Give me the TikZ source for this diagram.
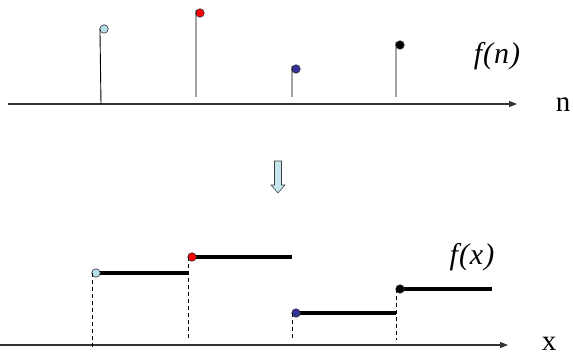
\documentclass[tikz,border=0pt]{standalone}
\usepackage{fontspec}
\setmainfont{Liberation Serif}
\newfontfamily\timesfont{Liberation Serif}
\newfontfamily\timesit{Liberation Serif Italic}
\usetikzlibrary{arrows.meta}
\definecolor{pblue}{HTML}{B4E0E6}
\definecolor{dblue}{HTML}{333399}
\definecolor{arrowfill}{HTML}{C4E6EC}
\tikzset{
  axisline/.style={line width=1.3pt, draw=black!80, -{Triangle[length=8pt,width=6pt]}},
  stem/.style={line width=0.9pt},
  dot/.style={circle, draw=black!80, line width=0.6pt, inner sep=0pt, minimum size=8.5pt},
  seg/.style={line width=3.8pt},
  guide/.style={line width=0.8pt, dash pattern=on 4pt off 3pt},
  lbl/.style={font=\timesit\fontsize{30}{30}\selectfont, inner sep=0pt},
  axlbl/.style={font=\timesfont\fontsize{29}{29}\selectfont, inner sep=0pt}
}
\begin{document}
\begin{tikzpicture}[x=1pt,y=-1pt]
\useasboundingbox (0,0) rectangle (573,363);
% top axis
\coordinate (ta0) at (8,104);
\coordinate (ta1) at (517,104);
\draw[axisline] (ta0) -- (ta1);
\node[axlbl] (nlab) at (563,105) {n};
\node[lbl] (fn) at (497,56) {f\kern1pt(\kern1pt n\kern1pt)};
% stems
\node[dot, fill=pblue] (d1) at (104,29) {};
\node[dot, fill=red] (d2) at (200,13) {};
\node[dot, fill=dblue] (d3) at (296,69) {};
\node[dot, fill=black] (d4) at (400,45) {};
\coordinate (s1) at (101,104);
\coordinate (s2) at (196,97);
\coordinate (s3) at (292,97);
\coordinate (s4) at (396,97);
\draw[stem] (d1.west) ++(0.5,0) -- (s1);
\draw[stem] (d2.west) ++(0.5,-3) -- (s2);
\draw[stem] (d3.west) ++(0.5,-3) -- (s3);
\draw[stem] (d4.west) ++(0.5,-3) -- (s4);
% down arrow
\node[coordinate] (ar) at (278,177) {};
\filldraw[fill=arrowfill, draw=black!75, line width=0.6pt]
  (274.5,161) -- (281.5,161) -- (281.5,185) -- (285,185) -- (278,193)
  -- (271,185) -- (274.5,185) -- cycle;
% bottom axis
\coordinate (ba0) at (0,345);
\coordinate (ba1) at (508,345);
\draw[axisline] (ba0) -- (ba1);
\node[axlbl] (xlab) at (549,344) {x};
\node[lbl] (fx) at (472,257) {f\kern1pt(\kern1pt x\kern1pt)};
% steps
\coordinate (e1) at (188,273);
\coordinate (e2) at (292,257);
\coordinate (e3) at (396,313);
\coordinate (e4) at (492,289);
\draw[seg] (93,273) -- (e1);
\draw[seg] (192,257) -- (e2);
\draw[seg] (296,313) -- (e3);
\draw[seg] (400,289) -- (e4);
\node[dot, fill=pblue] (b1) at (96,273) {};
\node[dot, fill=red] (b2) at (192,257) {};
\node[dot, fill=dblue] (b3) at (296,313) {};
\node[dot, fill=black] (b4) at (400,289) {};
\coordinate (g1) at (92,349);
\coordinate (g2) at (188,340);
\coordinate (g3) at (292,340);
\coordinate (g4) at (396,340);
\draw[guide] (92,273) -- (g1);
\draw[guide] (188,257) -- (g2);
\draw[guide] (292,313) -- (g3);
\draw[guide] (396,289) -- (g4);
\end{tikzpicture}
\end{document}
